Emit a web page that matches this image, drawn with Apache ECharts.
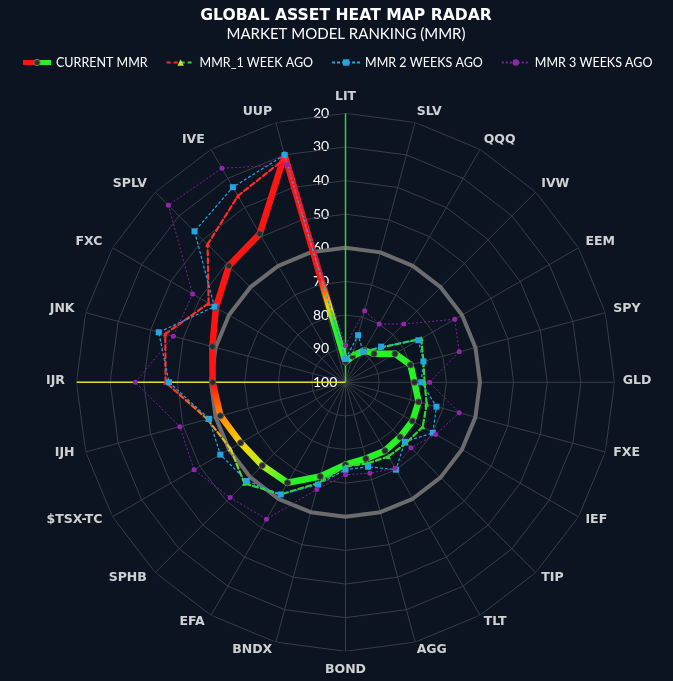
<!DOCTYPE html>
<html><head><meta charset="utf-8">
<script src="https://cdn.jsdelivr.net/npm/echarts@6/dist/echarts.min.js"></script>
<style>html,body{margin:0;padding:0;background:#0c1421;}#c{width:673px;height:681px;}</style>
</head><body><div id="c"></div>
<script>
const categories = ['LIT','SLV','QQQ','IVW','EEM','SPY','GLD','FXE','IEF','TIP','TLT','AGG','BOND','BNDX','EFA','SPHB','$TSX-TC','IJH','IJR','JNK','FXC','SPLV','IVE','UUP'];
const currentMMR   = [94,92,89,88,83,80,79.5,77.5,77,77,76.5,76.5,75.5,71,65.5,65,64,61.5,60.5,59,55.5,51,49,30];
const mmr1WeekAgo  = [93,91,89.5,85.5,74,76,76.5,75,73.5,74.5,74.5,75,75,69,61.5,57.5,60.5,57.5,46.5,44.5,53,42,36,31];
const mmr2WeeksAgo = [93,85.5,89.5,85,75,76,77.5,72,70,75,70,74,74,68.5,61.5,58.5,57,58,47.5,42.5,55,36.5,33,30];
const mmr3WeeksAgo = [89,78,80,75.5,62.5,65,75,65,69,72.5,70.5,72,72.5,67,53,51.5,48,49,37.5,47,47.5,25.5,26.5,33];
const rankTicks = [20,30,40,50,60,70,80,90,100];
const highlightRank = 60;

const RED='#ff1414', ORG='#ff8a00', YEL='#ffd200', YG='#b4f01e', GRN='#26f226';
const W1RED='#ff2a2a', W1GRN='#2fd82f';
const curColors = categories.map((c,i)=> i<=14?GRN : i===15?YG : i===16?YEL : i===17?ORG : RED);
const w1Colors = categories.map((c,i)=> i<=15?W1GRN : i===16?'#d8d020' : i===17?'#ff7a10' : W1RED);
const closeStopsCur = [[0,RED],[0.6,RED],[0.68,ORG],[0.73,YEL],[0.83,GRN],[1,GRN]];
const closeStopsW1 = [[0,W1RED],[0.6,W1RED],[0.72,'#e0c020'],[0.82,W1GRN],[1,W1GRN]];

const N = categories.length;
const rMin = rankTicks[0], rMax = rankTicks[rankTicks.length-1], rStep = rankTicks[1]-rankTicks[0];
function closed(arr){ return arr.map((v,i)=>[v,i]).concat([[arr[0], arr.length]]); }

const chart = echarts.init(document.getElementById('c'));
const series = [];
// polygon grid rings
rankTicks.slice(0,-1).forEach(t=>{
  series.push({type:'line', coordinateSystem:'polar', silent:true, symbol:'none', z:1,
    data: closed(categories.map(()=>t)), lineStyle:{color:'#393e45', width:1}});
});
series.push({type:'line', coordinateSystem:'polar', silent:true, symbol:'none', z:1.5,
  data: closed(categories.map(()=>highlightRank)), lineStyle:{color:'#6c6c6c', width:4}});
// coloured spokes
series.push({type:'line', coordinateSystem:'polar', silent:true, symbol:'none', z:1.6,
  data:[[rMax,0],[rMin,0]], lineStyle:{color:'#3ccf2a', width:1.5}});
const ijr = categories.indexOf('IJR');
series.push({type:'line', coordinateSystem:'polar', silent:true, symbol:'none', z:1.6,
  data:[[rMax,ijr],[rMin,ijr]], lineStyle:{color:'#e2dc2a', width:1.5}});

// category labels placed around the outer ring vertices
const labelData = categories.map((c,i)=>{
  const th = i*2*Math.PI/N, s = Math.sin(th), co = Math.cos(th);
  let label;
  if (i===0) label = {position:'top', distance:10};
  else if (2*i===N) label = {position:'bottom', distance:11};
  else if (s>0) label = {position:'right', distance:9*s-1.3, offset:[0,-9.5*co-1.5]};
  else label = {position:'left', distance:10.5*(-s)+0.5, offset:[0,-9.5*co-1.5]};
  return {name:c, value:[rMin,i], label:label};
});
series.push({type:'scatter', coordinateSystem:'polar', silent:true, z:8, data:labelData,
  symbol:'circle', symbolSize:1, itemStyle:{color:'rgba(0,0,0,0)'},
  label:{show:true, formatter:'{b}', color:'#ffffff', fontFamily:'DejaVu Sans', fontWeight:'bold', fontSize:12.5}});

function segs(arr, colors, prefix, width, type, z){
  const out=[];
  for(let i=0;i<N;i++){
    const j=(i+1)%N;
    out.push({id:prefix+i, type:'line', coordinateSystem:'polar', silent:true, symbol:'none', z:z,
      data:[[arr[i],i],[arr[j],i+1]],
      lineStyle:{color:colors[i], width:width, type:type, cap:'round', join:'round'}});
  }
  return out;
}
series.push(...segs(currentMMR, curColors, 'cur', 6.5, 'solid', 2));
series.push({name:'CURRENT MMR', type:'line', coordinateSystem:'polar', z:3,
  data: closed(currentMMR), symbol:'circle', symbolSize:6,
  lineStyle:{color:'rgba(0,0,0,0)', width:0},
  itemStyle:{color:'#2a2a2a', borderColor:'#555', borderWidth:1}});
series.push(...segs(mmr1WeekAgo, w1Colors, 'w1', 2.2, [5,3], 4));
series.push({name:'MMR_1 WEEK AGO', type:'line', coordinateSystem:'polar', z:5,
  data: closed(mmr1WeekAgo), symbol:'triangle', symbolSize:5,
  lineStyle:{color:'rgba(0,0,0,0)', width:0},
  itemStyle:{color:(p)=> w1Colors[p.dataIndex % N]}});
series.push({name:'MMR 2 WEEKS AGO', type:'line', coordinateSystem:'polar', z:6,
  data: closed(mmr2WeeksAgo), symbol:'rect', symbolSize:6,
  lineStyle:{color:'#26a6e0', width:1.2, type:[3,2]}, itemStyle:{color:'#26a6e0'}});
series.push({name:'MMR 3 WEEKS AGO', type:'line', coordinateSystem:'polar', z:7,
  data: closed(mmr3WeeksAgo), symbol:'circle', symbolSize:5,
  lineStyle:{color:'#82209a', width:1, type:[2,2]}, itemStyle:{color:'#9426ad'}});

const hardGrad = (a,b)=>({type:'linear',x:0,y:0,x2:1,y2:0,colorStops:[{offset:0,color:a},{offset:0.5,color:a},{offset:0.5,color:b},{offset:1,color:b}]});

chart.setOption({
  backgroundColor:'#0c1421',
  animation:false,
  title:{text:'GLOBAL ASSET HEAT MAP RADAR', subtext:'MARKET MODEL RANKING (MMR)', left:341, textAlign:'center', top:3, itemGap:3,
    textStyle:{color:'#ffffff', fontSize:15.6, fontWeight:'bold', fontFamily:'DejaVu Sans'},
    subtextStyle:{color:'#ffffff', fontSize:15, fontFamily:'Lato'}},
  legend:{top:51, left:'center', itemWidth:28, itemHeight:8, itemGap:18,
    textStyle:{color:'#ffffff', fontSize:12.5, fontFamily:'Lato'},
    data:[
      {name:'CURRENT MMR', lineStyle:{color:hardGrad(RED,GRN), width:5, opacity:1, type:'solid'}, itemStyle:{color:'#333', borderColor:'#777', borderWidth:1}},
      {name:'MMR_1 WEEK AGO', lineStyle:{color:hardGrad(W1RED,W1GRN), width:2, opacity:1, type:[4,3]}, itemStyle:{color:'#c8e040'}},
      {name:'MMR 2 WEEKS AGO'},
      {name:'MMR 3 WEEKS AGO'}
    ]},
  polar:{center:[345.5,382.3], radius:269},
  angleAxis:{type:'value', min:0, max:N, interval:1, startAngle:90, clockwise:true,
    axisLine:{show:false}, axisTick:{show:false}, axisLabel:{show:false},
    splitLine:{show:true, lineStyle:{color:'#393e45', width:1}}},
  radiusAxis:{type:'value', min:rMin, max:rMax, interval:rStep, inverse:true,
    axisLine:{show:false}, axisTick:{show:false}, splitLine:{show:false},
    axisLabel:{color:'#ffffff', fontFamily:'Lato', fontSize:14, align:'left', margin:32.5}},
  series: series
});

// colour transitions along the thick / dashed lines
function gradUpdates(arr, colors, prefix, closeStops){
  const ups=[];
  for(let i=0;i<N;i++){
    const j=(i+1)%N;
    let stops=null;
    if(i===N-1) stops=closeStops;
    else if(colors[i]!==colors[j]) stops=[[0,colors[i]],[1,colors[j]]];
    if(!stops) continue;
    const p1=chart.convertToPixel({polarIndex:0},[arr[i],i]);
    const p2=chart.convertToPixel({polarIndex:0},[arr[j],i+1]);
    if(!p1||!p2) continue;
    ups.push({id:prefix+i, lineStyle:{color:{type:'linear',x:p1[0],y:p1[1],x2:p2[0],y2:p2[1],global:true,
      colorStops:stops.map(s=>({offset:s[0],color:s[1]}))}}});
  }
  return ups;
}
chart.setOption({series: gradUpdates(currentMMR,curColors,'cur',closeStopsCur).concat(gradUpdates(mmr1WeekAgo,w1Colors,'w1',closeStopsW1))});
</script></body></html>
